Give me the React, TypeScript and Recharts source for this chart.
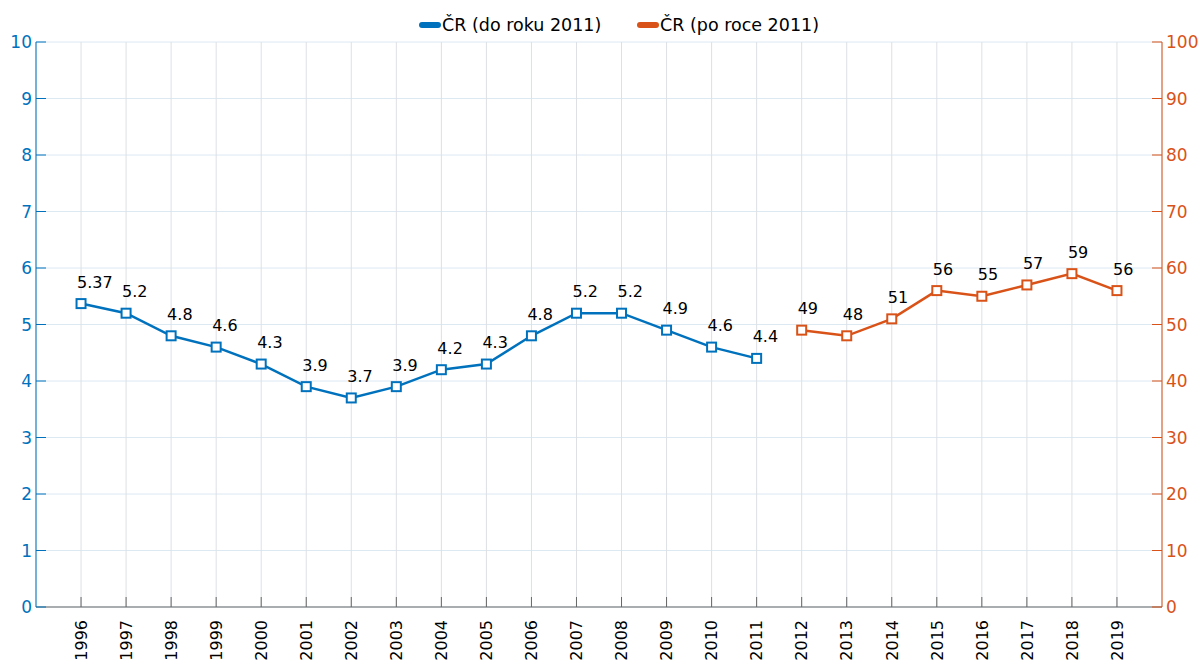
import React from 'react';
import { LineChart, Line, XAxis, YAxis, CartesianGrid, Legend } from 'recharts';

const years = [1996, 1997, 1998, 1999, 2000, 2001, 2002, 2003, 2004, 2005, 2006, 2007, 2008, 2009, 2010, 2011, 2012, 2013, 2014, 2015, 2016, 2017, 2018, 2019];
const before2011 = [5.37, 5.2, 4.8, 4.6, 4.3, 3.9, 3.7, 3.9, 4.2, 4.3, 4.8, 5.2, 5.2, 4.9, 4.6, 4.4, null, null, null, null, null, null, null, null];
const after2011 = [null, null, null, null, null, null, null, null, null, null, null, null, null, null, null, null, 49, 48, 51, 56, 55, 57, 59, 56];
const leftTicks = [0, 1, 2, 3, 4, 5, 6, 7, 8, 9, 10];
const rightTicks = [0, 10, 20, 30, 40, 50, 60, 70, 80, 90, 100];
const seriesNames = ['ČR (do roku 2011)', 'ČR (po roce 2011)'];

const BLUE = '#0072BD';
const ORANGE = '#D95319';
const FONT = '"DejaVu Sans", sans-serif';

const data = years.map((y, i) => ({ year: y, before: before2011[i], after: after2011[i] }));

const makeDot = (color: string) => (props: any) => {
  const { cx, cy, value, index } = props;
  if (value == null || cx == null || cy == null) return <g key={`d-${index}`} />;
  return <rect key={`d-${index}`} x={cx - 4.5} y={cy - 4.5} width={9} height={9} fill="#fff" stroke={color} strokeWidth={2} />;
};

const renderLabel = (props: any) => {
  const { x, y, value, index } = props;
  if (value == null) return <g key={`l-${index}`} />;
  return (
    <text key={`l-${index}`} x={x - 4} y={y - 16} fontSize={16} fill="#000" fontFamily={FONT} textAnchor="start">
      {String(value)}
    </text>
  );
};

const XTick = (props: any) => {
  const { x, y, payload } = props;
  return (
    <text x={x} y={y} transform={`rotate(-90, ${x}, ${y})`} textAnchor="end" dy="0.36em" fontSize={16} fill="#000" fontFamily={FONT}>
      {payload.value}
    </text>
  );
};

const EmptyTick = () => <g />;

const LegendContent = () => (
  <div style={{ position: 'relative', height: 28, fontFamily: FONT, fontSize: 17.5, color: '#000' }}>
    {[BLUE, ORANGE].map((c, i) => (
      <div key={i} style={{ position: 'absolute', left: i === 0 ? 418 : 636, top: 0, height: 22, display: 'flex', alignItems: 'center', whiteSpace: 'nowrap' }}>
        <svg width={24} height={10} style={{ marginRight: 0 }}>
          <line x1={4} y1={5} x2={20} y2={5} stroke={c} strokeWidth={6} strokeLinecap="round" />
        </svg>
        <span>{seriesNames[i]}</span>
      </div>
    ))}
  </div>
);

export default function App() {
  return (
    <div style={{ width: 1199, height: 661, fontFamily: FONT, position: 'absolute', left: 0, top: 0, background: '#fff' }}>
      <LineChart width={1199} height={661} data={data} margin={{ top: 14, right: 0, bottom: 0, left: 0 }}>
        <CartesianGrid xAxisId="bottom" yAxisId="left" horizontal={true} vertical={false} stroke="#DCE9F3" />
        <CartesianGrid xAxisId="bottom" yAxisId="left" horizontal={false} vertical={true} stroke="#DDE0E4" />
        <XAxis xAxisId="bottom" dataKey="year" type="number" domain={[1995, 2020]} ticks={years} allowDataOverflow
          height={54} stroke="#666" tickSize={-10} tickMargin={23} tick={<XTick />} interval={0} />
        <XAxis xAxisId="top" orientation="top" dataKey="year" type="number" domain={[1995, 2020]} ticks={years} allowDataOverflow
          height={0} stroke="#666" tickSize={-10} tick={<EmptyTick />} interval={0} />
        <YAxis yAxisId="left" orientation="left" domain={[0, 10]} ticks={leftTicks} width={36} stroke={BLUE}
          tickSize={-10} tickMargin={14} tick={{ fill: BLUE, fontSize: 17, fontFamily: FONT }} interval={0} />
        <YAxis yAxisId="right" orientation="right" domain={[0, 100]} ticks={rightTicks} width={37} stroke={ORANGE}
          tickSize={-10} tickMargin={14} tick={{ fill: ORANGE, fontSize: 17, fontFamily: FONT }} interval={0} />
        <Legend verticalAlign="top" align="left" content={<LegendContent />} />
        <Line xAxisId="bottom" yAxisId="left" dataKey="before" name={seriesNames[0]} stroke={BLUE} strokeWidth={2.5}
          dot={makeDot(BLUE)} activeDot={false} label={renderLabel} isAnimationActive={false} />
        <Line xAxisId="bottom" yAxisId="right" dataKey="after" name={seriesNames[1]} stroke={ORANGE} strokeWidth={2.5}
          dot={makeDot(ORANGE)} activeDot={false} label={renderLabel} isAnimationActive={false} />
      </LineChart>
    </div>
  );
}
